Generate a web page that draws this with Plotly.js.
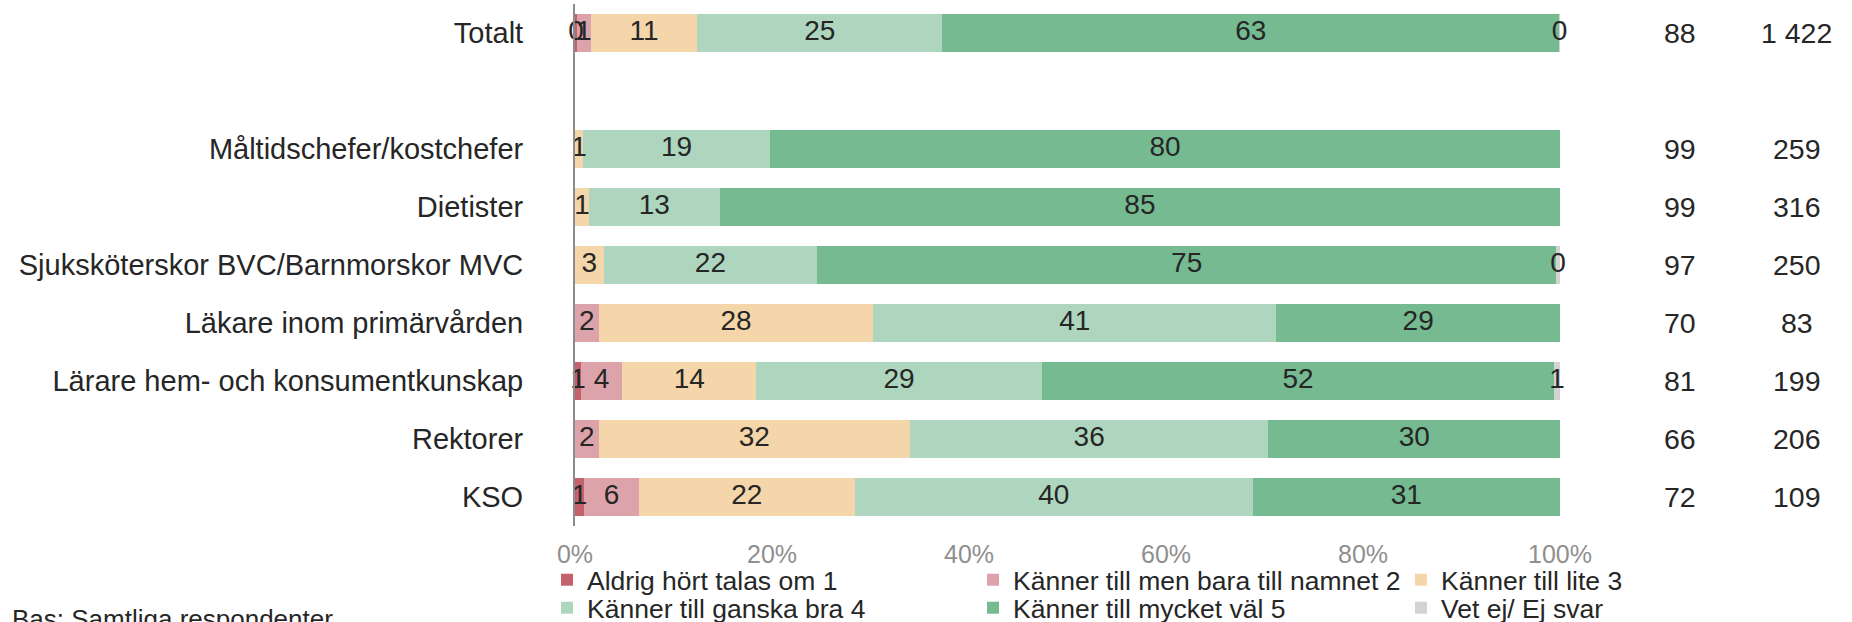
<!DOCTYPE html>
<html>
<head>
<meta charset="utf-8">
<script src="https://cdn.plot.ly/plotly-3.0.1.min.js"></script>
<style>
  html, body { margin: 0; padding: 0; background: #ffffff; }
  #chart { width: 1852px; height: 622px; }
</style>
</head>
<body>
<div id="chart"></div>
<script>
// ---------- data ----------
const categories = [
  "Totalt",
  " ",
  "Måltidschefer/kostchefer",
  "Dietister",
  "Sjuksköterskor BVC/Barnmorskor MVC",
  "Läkare inom primärvården",
  "Lärare hem- och konsumentkunskap",
  "Rektorer",
  "KSO"
];

const seriesNames = [
  "Aldrig hört talas om 1",
  "Känner till men bara till namnet 2",
  "Känner till lite 3",
  "Känner till ganska bra 4",
  "Känner till mycket väl 5",
  "Vet ej/ Ej svar"
];

const aldrig = [0.2, null, null, null, null, null, 0.6, null, 0.9];
const namnet = [1.4, null, null, null, null, 2.4, 4.2, 2.4, 5.6];
const lite   = [10.8, null, 0.8, 1.4, 2.9, 27.9, 13.6, 31.6, 21.9];
const ganska = [24.9, null, 19.0, 13.3, 21.7, 40.9, 29.0, 36.4, 40.4];
const mycket = [62.6, null, 80.2, 85.3, 75.0, 28.8, 52.0, 29.6, 31.2];
const vetej  = [0.1, null, null, null, 0.4, null, 0.6, null, null];

const shareHigh = ["88", "", "99", "99", "97", "70", "81", "66", "72"];
const baseN     = ["1 422", "", "259", "316", "250", "83", "199", "206", "109"];

const xTickVals = [0, 20, 40, 60, 80, 100];
const xTickText = ["0%", "20%", "40%", "60%", "80%", "100%"];
const footnote = "Bas: Samtliga respondenter";

// ---------- styles ----------
const colors = ["#C4626B", "#DDA3AA", "#F4D6AA", "#AED6BE", "#75BA90", "#D3D3D3"];
const FONT = "Liberation Sans, Arial, sans-serif";
const TXT = "#262626";

const allSeries = [aldrig, namnet, lite, ganska, mycket, vetej];
const legendIds = ["legend", "legend2", "legend3", "legend4", "legend5", "legend6"];

const traces = [];
allSeries.forEach((vals, i) => {
  traces.push({
    type: "bar",
    orientation: "h",
    name: seriesNames[i],
    x: vals,
    y: categories,
    marker: { color: colors[i], line: { width: 0 } },
    legend: legendIds[i],
    hoverinfo: "x+name"
  });
});

// label traces at segment centres (computed from the data)
const cum = categories.map(() => 0);
allSeries.forEach((vals, i) => {
  const xs = [], ys = [], ts = [];
  vals.forEach((v, j) => {
    if (v !== null && v !== undefined) {
      xs.push(cum[j] + v / 2);
      ys.push(categories[j]);
      ts.push(String(Math.round(v)));
      cum[j] += v;
    }
  });
  traces.push({
    type: "scatter",
    mode: "text",
    x: xs, y: ys, text: ts,
    textposition: "middle center",
    textfont: { family: FONT, size: 28, color: TXT },
    cliponaxis: false,
    showlegend: false,
    hoverinfo: "skip"
  });
});

const annotations = [];
categories.forEach((c, j) => {
  if (shareHigh[j] !== "") {
    annotations.push({
      xref: "paper", yref: "y", x: 1.1218, y: c, text: shareHigh[j],
      showarrow: false, xanchor: "center", yanchor: "middle",
      font: { family: FONT, size: 28.5, color: TXT }
    });
    annotations.push({
      xref: "paper", yref: "y", x: 1.2406, y: c, text: baseN[j],
      showarrow: false, xanchor: "center", yanchor: "middle",
      font: { family: FONT, size: 28.5, color: TXT }
    });
  }
});
annotations.push({
  xref: "paper", yref: "paper", x: -0.5736, y: -0.178, text: footnote,
  showarrow: false, xanchor: "left", yanchor: "middle",
  font: { family: FONT, size: 26, color: TXT }
});

const layout = {
  width: 1852,
  height: 622,
  margin: { l: 575, r: 292, t: 4, b: 96 },
  paper_bgcolor: "#ffffff",
  plot_bgcolor: "#ffffff",
  barmode: "stack",
  bargap: 0.345,
  font: { family: FONT, color: TXT },
  xaxis: {
    range: [0, 100],
    tickmode: "array",
    tickvals: xTickVals,
    ticktext: xTickText,
    showgrid: false,
    zeroline: false,
    showline: false,
    ticks: "outside",
    ticklen: 6,
    tickcolor: "rgba(0,0,0,0)",
    tickfont: { family: FONT, size: 25, color: "#8f8f8f" },
    fixedrange: true
  },
  yaxis: {
    type: "category",
    categoryorder: "array",
    categoryarray: categories,
    autorange: "reversed",
    showgrid: false,
    zeroline: false,
    showline: true,
    linecolor: "#8c8c8c",
    linewidth: 2,
    ticks: "outside",
    ticklen: 44,
    tickcolor: "rgba(0,0,0,0)",
    tickfont: { family: FONT, size: 29, color: TXT },
    fixedrange: true
  },
  annotations: annotations,
  showlegend: true
};

// one single-entry legend per series, laid out as 3 columns x 2 rows
const colX = [547, 973, 1401];
const rowY = [580, 608];
legendIds.forEach((id, i) => {
  layout[id] = {
    orientation: "h",
    xref: "container", yref: "container",
    x: colX[i % 3] / 1852,
    y: 1 - rowY[Math.floor(i / 3)] / 622,
    xanchor: "left", yanchor: "middle",
    font: { family: FONT, size: 26.5, color: TXT },
    bgcolor: "rgba(0,0,0,0)",
    borderwidth: 0
  };
});

Plotly.newPlot("chart", traces, layout, { displayModeBar: false, staticPlot: true });
</script>
</body>
</html>
